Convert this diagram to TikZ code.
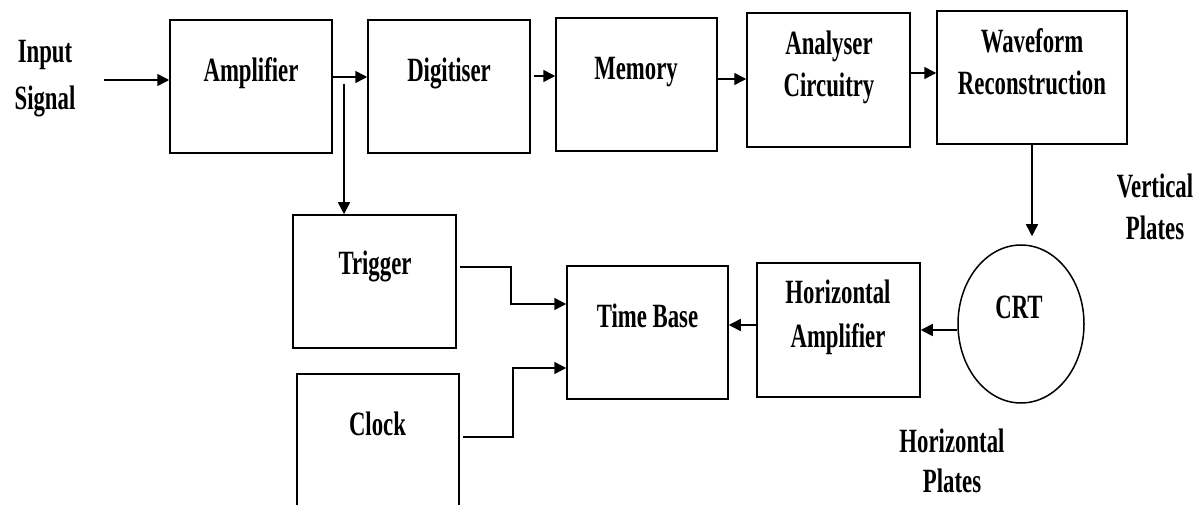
\documentclass[tikz,border=0pt]{standalone}
\usepackage{fontspec}
\setmainfont{Liberation Serif}[FakeStretch=0.67]
\usetikzlibrary{arrows.meta,shapes.geometric}
\begin{document}
\begin{tikzpicture}[x=1pt,y=-1pt,
  blk/.style={draw, line width=1.5pt, inner sep=0pt},
  lbl/.style={anchor=base, inner sep=0pt, font=\fontsize{34}{40}\selectfont\bfseries},
  arr/.style={line width=1.5pt, -{Triangle[length=12pt,width=12pt]}}]
\clip (0,0) rectangle (1203,505);
% boxes
\node[blk, minimum width=162pt, minimum height=133pt] (amp) at (251,86.5) {};
\node[blk, minimum width=162pt, minimum height=133pt] (dig) at (449,86.5) {};
\node[blk, minimum width=161pt, minimum height=133pt] (mem) at (636.5,84.5) {};
\node[blk, minimum width=163pt, minimum height=134pt] (ana) at (828.5,80) {};
\node[blk, minimum width=190pt, minimum height=133pt] (wf) at (1032,77.5) {};
\node[blk, minimum width=163pt, minimum height=133pt] (trig) at (374.5,281.5) {};
\node[blk, minimum width=162pt, minimum height=166pt] (clk) at (378,457) {};
\node[blk, minimum width=161pt, minimum height=133pt] (tb) at (647.5,332.5) {};
\node[blk, minimum width=163pt, minimum height=134pt] (ha) at (838.5,330) {};
\node[blk, ellipse, minimum width=126pt, minimum height=158pt] (crt) at (1021,324) {};
% labels
\node[lbl] (inp1) at (45,63) {Input};
\node[lbl] (inp2) at (45,110) {Signal};
\node[lbl] (ampt) at (251,82) {Amplifier};
\node[lbl] (digt) at (449,82) {Digitiser};
\node[lbl] (memt) at (636,80) {Memory};
\node[lbl] (ana1) at (829,55) {Analyser};
\node[lbl] (ana2) at (829,97) {Circuitry};
\node[lbl] (wf1) at (1032,53) {Waveform};
\node[lbl] (wf2) at (1032,95) {Reconstruction};
\node[lbl] (vp1) at (1155,198) {Vertical};
\node[lbl] (vp2) at (1155,240) {Plates};
\node[lbl] (trgt) at (375,275) {Trigger};
\node[lbl] (clkt) at (377.5,435) {Clock};
\node[lbl] (tbt) at (647.5,327) {Time Base};
\node[lbl] (ha1) at (838,304) {Horizontal};
\node[lbl] (ha2) at (838,347) {Amplifier};
\node[lbl] (crtt) at (1019,319) {CRT};
\node[lbl] (hp1) at (952,452) {Horizontal};
\node[lbl] (hp2) at (952,492) {Plates};
% connectors
\coordinate (in) at (104,80);
\coordinate (br) at (344,84);
\draw[arr] (in) -- (in -| amp.west);
\draw[arr] ([yshift=9.5pt]amp.east) -- ([yshift=9.5pt]amp.east -| dig.west);
\draw[arr] (br) -- (br |- trig.north);
\draw[arr] ([xshift=3pt,yshift=10.5pt]dig.east) -- ([yshift=10.5pt]dig.east -| mem.west);
\draw[arr] ([yshift=5.5pt]mem.east) -- ([yshift=5.5pt]mem.east -| ana.west);
\draw[arr] ([yshift=7pt]ana.east) -- ([yshift=7pt]ana.east -| wf.west);
\draw[arr, shorten >=8pt] (wf.south) -- (wf.south |- crt.north);
\draw[arr] (ha.east -| crt.west) -- (ha.east);
\draw[arr] ([yshift=5pt]ha.west) -- ([yshift=5pt]ha.west -| tb.east);
\draw[arr] ([xshift=3pt,yshift=14.5pt]trig.east) -- ++(51,0) |- ([yshift=28.5pt]tb.west);
\draw[arr] ([xshift=3pt,yshift=20pt]clk.east) -- ++(50,0) |- ([yshift=-35.5pt]tb.west);
\end{tikzpicture}
\end{document}
